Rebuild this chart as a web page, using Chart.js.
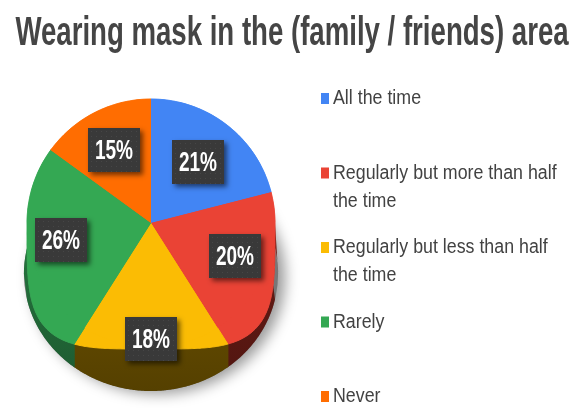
<!DOCTYPE html>
<html>
<head>
<meta charset="utf-8">
<script src="https://cdn.jsdelivr.net/npm/chart.js@4/dist/chart.umd.min.js"></script>
<style>
  html, body { margin: 0; padding: 0; background: #ffffff; }
  #mask_chart { display: block; }
</style>
</head>
<body>
<canvas id="mask_chart" width="575" height="408"></canvas>
<script>
const chartTitle = "Wearing mask in the (family / friends) area";
const answers = ["All the time", "Regularly but more than half the time", "Regularly but less than half the time", "Rarely", "Never"];
const shares = [21, 20, 18, 26, 15];

const topColors = ["#4285f4", "#ea4335", "#fbbc04", "#34a853", "#ff6d01"];
const sideColors = ["#23498a", "#6a1c16", "#715500", "#26773f", "#8a3b00"];
const labelRadius = [0.62, 0.73, 0.935, 0.735, 0.66];

const font = '"Liberation Sans", Arial, sans-serif';

// fillText squeezed horizontally by sx
function squeezedText(ctx, text, x, y, sx) {
  ctx.save();
  ctx.translate(x, y);
  ctx.scale(sx, 1);
  ctx.fillText(text, 0, 0);
  ctx.restore();
}

// distance from the centre to the rim; the front half bulges out a bit
function rimRadius(phi, r, rb) {
  const s = Math.sin(phi);
  if (s <= 0) return r;
  const c = Math.abs(Math.cos(phi));
  return 1 / Math.pow(Math.pow(c / r, 4) + Math.pow(s / rb, 4), 0.25);
}

// 3d look: shadow, side wall and the bulged front of each slice
const pie3d = {
  id: 'pie3d',
  beforeDatasetsDraw(chart, args, opts) {
    const ctx = chart.ctx;
    const arcs = chart.getDatasetMeta(0).data;
    if (!arcs.length) return;
    const cx = arcs[0].x, cy = arcs[0].y, r = arcs[0].outerRadius;
    const rb = r * opts.frontBulge;
    const baseY = cy + r * opts.baseOffset;
    const baseA = r * opts.baseRadiusX, baseB = r * opts.baseRadiusY;
    const step = Math.PI / 360;

    // soft shadow under the base
    ctx.save();
    ctx.shadowColor = 'rgba(0,0,0,0.4)';
    ctx.shadowBlur = 14;
    ctx.shadowOffsetX = 7;
    ctx.shadowOffsetY = 3;
    ctx.fillStyle = '#777';
    ctx.beginPath();
    ctx.ellipse(cx, baseY, baseA, baseB, 0, 0, Math.PI * 2);
    ctx.fill();
    ctx.restore();

    // side wall, only the front half shows
    arcs.forEach((arc, i) => {
      const a0 = Math.max(arc.startAngle - 0.004, 0);
      const a1 = Math.min(arc.endAngle + 0.004, Math.PI);
      if (a0 >= a1) return;
      const upper = [], lower = [];
      for (let p = a0; ; p += step) {
        const phi = Math.min(p, a1);
        const rho = rimRadius(phi, r, rb);
        const x = cx + Math.cos(phi) * rho;
        const yTop = cy + Math.sin(phi) * rho;
        const u = (x - cx) / baseA;
        const yBot = baseY + baseB * Math.sqrt(Math.max(0, 1 - u * u));
        upper.push([x, yTop]);
        lower.push([x, Math.max(yTop, yBot)]);
        if (phi >= a1) break;
      }
      // outer edge of the wall where it sticks out past the rim
      if (a0 === 0) {
        for (let y = cy; y < baseY; y++) {
          const v = (y - baseY) / baseB;
          lower.unshift([cx + baseA * Math.sqrt(Math.max(0, 1 - v * v)), y]);
        }
      }
      if (a1 === Math.PI) {
        for (let y = baseY; y > cy; y--) {
          const v = (y - baseY) / baseB;
          lower.push([cx - baseA * Math.sqrt(Math.max(0, 1 - v * v)), y]);
        }
      }
      const grad = ctx.createLinearGradient(0, cy, 0, baseY + baseB);
      grad.addColorStop(0, sideColors[i]);
      grad.addColorStop(1, Chart.helpers.color(sideColors[i]).darken(0.25).rgbString());
      ctx.fillStyle = grad;
      ctx.beginPath();
      upper.forEach(([x, y], k) => k ? ctx.lineTo(x, y) : ctx.moveTo(x, y));
      for (let k = lower.length - 1; k >= 0; k--) ctx.lineTo(lower[k][0], lower[k][1]);
      ctx.closePath();
      ctx.fill();
    });

    // top faces with the bulged front rim
    arcs.forEach((arc, i) => {
      ctx.fillStyle = topColors[i];
      ctx.strokeStyle = topColors[i];
      ctx.lineWidth = 1;
      ctx.beginPath();
      ctx.moveTo(cx, cy);
      for (let p = arc.startAngle; ; p += step) {
        const phi = Math.min(p, arc.endAngle);
        const rho = rimRadius(phi, r, rb);
        ctx.lineTo(cx + Math.cos(phi) * rho, cy + Math.sin(phi) * rho);
        if (phi >= arc.endAngle) break;
      }
      ctx.closePath();
      ctx.fill();
      ctx.stroke();
    });
  }
};

// percent boxes on the slices
const sliceLabels = {
  id: 'sliceLabels',
  afterDatasetsDraw(chart) {
    const ctx = chart.ctx;
    const arcs = chart.getDatasetMeta(0).data;
    const values = chart.data.datasets[0].data;
    arcs.forEach((arc, i) => {
      const mid = (arc.startAngle + arc.endAngle) / 2;
      const d = arc.outerRadius * labelRadius[i];
      const x = Math.round(arc.x + Math.cos(mid) * d);
      const y = Math.round(arc.y + Math.sin(mid) * d);
      const w = 52, h = 44;
      const left = x - w / 2, top = y - h / 2;

      ctx.save();
      ctx.shadowColor = 'rgba(0,0,0,0.55)';
      ctx.shadowBlur = 5;
      ctx.shadowOffsetX = 3;
      ctx.shadowOffsetY = 3;
      ctx.fillStyle = '#393939';
      ctx.fillRect(left, top, w, h);
      ctx.restore();

      // dotted texture of the box
      ctx.save();
      ctx.fillStyle = 'rgba(255,255,255,0.07)';
      for (let dy = 3; dy < h; dy += 5) {
        for (let dx = 3; dx < w; dx += 5) ctx.fillRect(left + dx, top + dy, 1, 1);
      }
      ctx.restore();

      ctx.save();
      ctx.fillStyle = '#ffffff';
      ctx.font = 'bold 28px ' + font;
      ctx.textAlign = 'center';
      ctx.textBaseline = 'alphabetic';
      squeezedText(ctx, values[i] + '%', x, y + 9, 0.68);
      ctx.restore();
    });
  }
};

// title and the legend on the right
const titleAndLegend = {
  id: 'titleAndLegend',
  afterDraw(chart) {
    const ctx = chart.ctx;
    ctx.save();
    ctx.fillStyle = '#454545';
    ctx.font = 'bold 40px ' + font;
    ctx.textAlign = 'center';
    ctx.textBaseline = 'alphabetic';
    squeezedText(ctx, chartTitle, 292, 45, 0.69);
    ctx.restore();

    const sx = 0.89;
    const maxWidth = 232;
    ctx.save();
    ctx.font = '20px ' + font;
    ctx.textAlign = 'left';
    ctx.textBaseline = 'alphabetic';
    chart.data.labels.forEach((label, i) => {
      const top = 89 + i * 74.5;
      ctx.fillStyle = topColors[i];
      ctx.fillRect(321, top + 4, 8, 11);

      // wrap the label to the legend width
      const words = label.split(' ');
      const lines = [];
      let line = '';
      words.forEach(word => {
        const test = line ? line + ' ' + word : word;
        if (ctx.measureText(test).width * sx > maxWidth && line) {
          lines.push(line);
          line = word;
        } else {
          line = test;
        }
      });
      lines.push(line);

      ctx.fillStyle = '#424242';
      lines.forEach((l, j) => {
        squeezedText(ctx, l, 333, top + 15 + j * 28, sx);
      });
    });
    ctx.restore();
  }
};

window.addEventListener('load', function () {
  let context = document.querySelector("#mask_chart").getContext('2d');
  new Chart(context, {
    type: 'pie',
    data: {
      labels: answers,
      datasets: [{
        data: shares,
        backgroundColor: topColors,
        borderWidth: 0
      }]
    },
    options: {
      responsive: false,
      animation: false,
      layout: { padding: { left: 27, right: 300, top: 99, bottom: 61 } },
      plugins: {
        legend: { display: false },
        tooltip: { enabled: false },
        title: { display: false },
        pie3d: { frontBulge: 1.016, baseOffset: 0.41, baseRadiusX: 1.025, baseRadiusY: 0.945 }
      }
    },
    plugins: [pie3d, sliceLabels, titleAndLegend]
  });
});
</script>
</body>
</html>
